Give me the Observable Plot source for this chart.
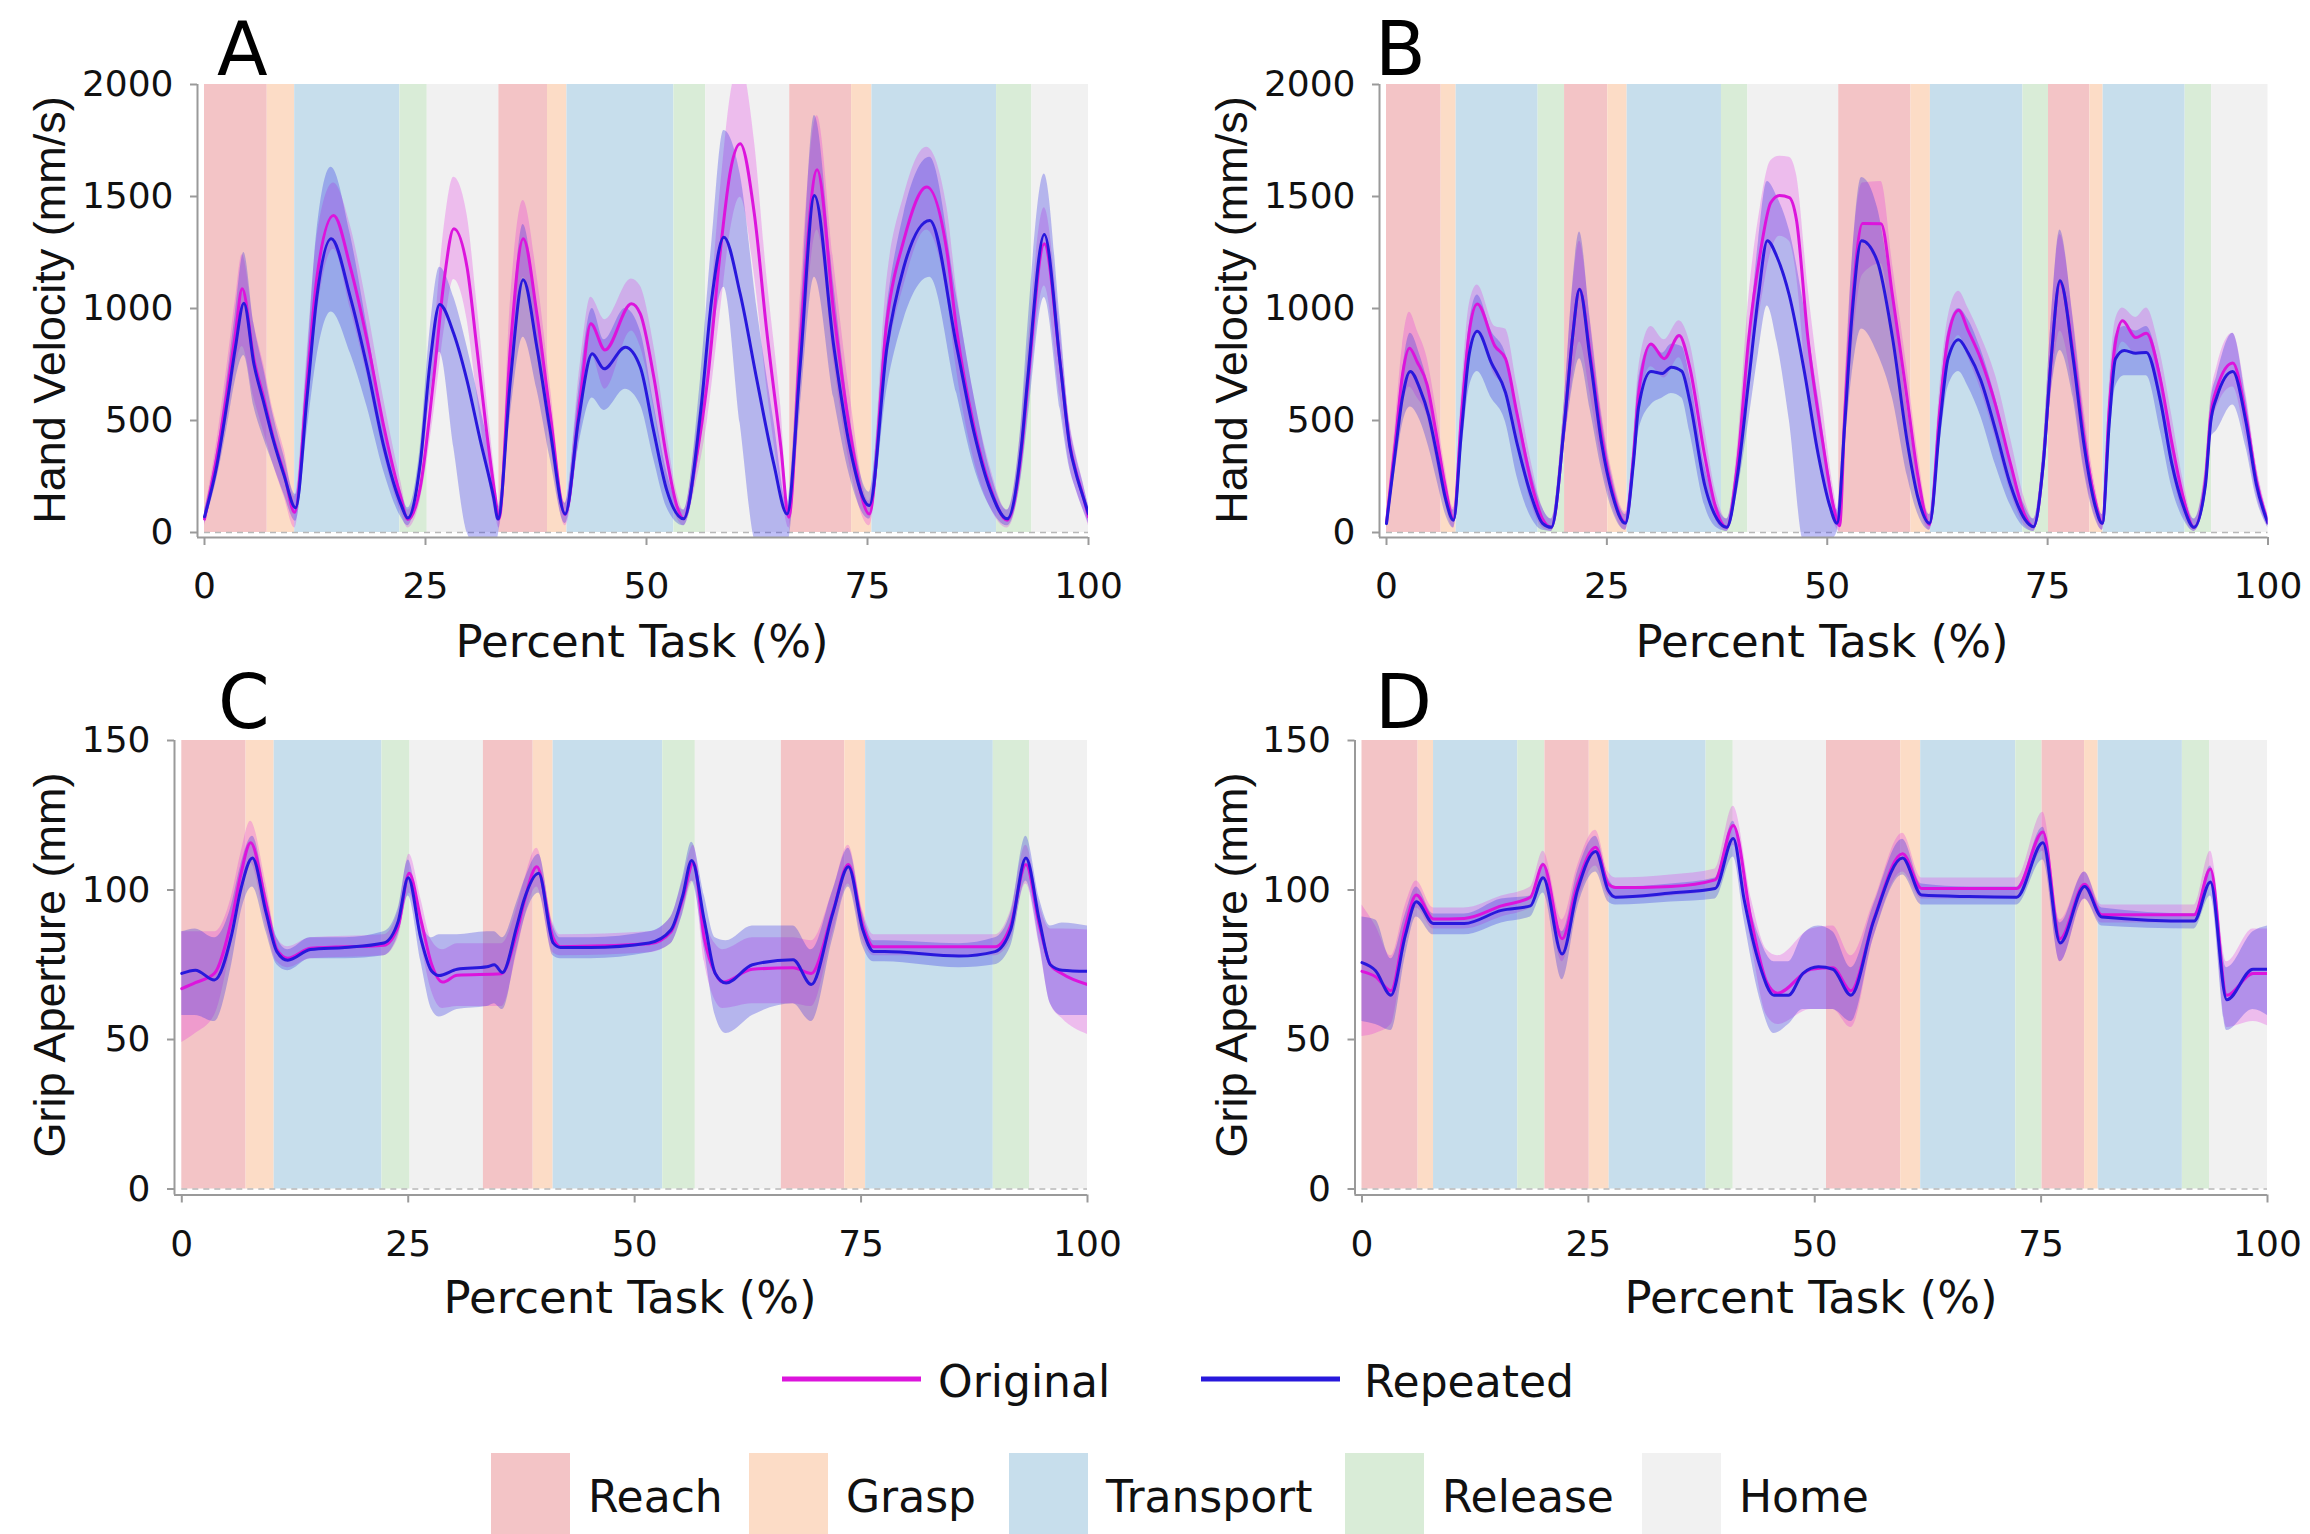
<!DOCTYPE html>
<html><head><meta charset="utf-8">
<script src="https://cdn.jsdelivr.net/npm/d3@7"></script>
<script src="https://cdn.jsdelivr.net/npm/@observablehq/plot@0.6"></script>
<style>
body{margin:0;background:#fff;}
#fig{position:relative;width:2310px;height:1534px;overflow:hidden;background:#fff;}
#fig svg{position:absolute;}
</style></head><body><div id="fig"></div>
<script>
// ---------- phases ----------
const phaseNames = ["Reach","Grasp","Transport","Release","Home"];
const phaseColors = ["#f3c4c6","#fcdcc6","#c7deec","#d9ecd7","#f1f1f1"];
const phasesAC = ["Reach","Grasp","Transport","Release","Home","Reach","Grasp","Transport","Release","Home","Reach","Grasp","Transport","Release","Home"];
const boundsAC = [0,7.1,10.2,22.1,25.2,33.3,38.8,41.0,53.1,56.7,66.2,73.2,75.5,89.6,93.6,100];
const phasesBD = ["Reach","Grasp","Transport","Release","Reach","Grasp","Transport","Release","Home","Reach","Grasp","Transport","Release","Reach","Grasp","Transport","Release","Home"];
const boundsBD = [0,6.2,7.9,17.2,20.2,25.1,27.3,38.0,41.0,51.3,59.5,61.7,72.2,75.1,79.8,81.3,90.6,93.6,100];
const seriesNames = ["Original","Repeated"];
const xTicks = [0,25,50,75,100];
const velTicks = [0,500,1000,1500,2000];
const gripTicks = [0,50,100,150];

// ---------- data: [percent task, mean, band low, band high] ----------
const A_orig = [[0,60,30,90],[1.4,340,270,410],[2.6,640,520,760],[3.5,890,740,1040],[4.26,1088,830,1240],[5.6,770,600,930],[6.7,600,450,750],[7.8,420,300,540],[9.0,265,160,370],[10.2,90,20,160],[11.6,670,540,800],[12.7,1135,960,1310],[14.6,1415,1265,1560],[16.5,1184,1000,1370],[18.4,857,700,1010],[20.3,470,350,590],[22.2,158,90,230],[23.0,58,20,100],[24.4,200,140,260],[25.9,678,520,840],[27.1,1125,900,1360],[28.2,1356,1130,1586],[29.7,1184,950,1420],[30.8,827,620,1030],[31.9,455,300,610],[32.9,158,80,240],[33.3,60,20,100],[34.6,827,620,1030],[36.05,1311,1140,1482],[37.6,976,800,1150],[39.1,530,400,660],[40.8,80,30,130],[42.5,600,450,750],[43.7,932,800,1050],[45.3,815,640,950],[48.3,1021,900,1132],[49.3,976,830,1100],[50.8,700,560,840],[52.3,330,220,440],[53.5,110,60,170],[54.2,61,30,100],[55.5,300,200,400],[56.9,678,500,860],[58.4,1274,1000,1550],[59.5,1616,1350,1950],[60.6,1735,1497,2100],[62.2,1422,1150,1750],[63.6,900,650,1150],[65.2,381,200,560],[66.1,68,20,120],[67.4,850,650,1050],[69.3,1619,1350,1860],[71.2,976,760,1200],[73.0,455,300,620],[75.2,83,30,140],[77.2,946,760,1130],[79.1,1304,1100,1500],[81.7,1542,1350,1720],[84.0,1250,1050,1450],[85.1,900,720,1080],[87.0,480,330,620],[88.9,200,110,290],[90.8,55,20,100],[92.4,360,260,480],[93.1,650,520,800],[95.0,1289,1100,1450],[96.8,753,600,900],[97.9,390,290,490],[98.6,270,190,350],[99.4,160,100,220],[100,70,30,110]];
const A_rep = [[0,70,40,100],[1.4,300,240,360],[2.6,590,480,700],[3.5,827,680,980],[4.45,1024,790,1250],[5.6,750,560,930],[6.7,580,420,730],[7.8,410,300,520],[9.0,255,170,340],[10.3,110,50,170],[11.6,604,450,760],[12.7,1049,780,1340],[14.33,1311,984,1631],[16.5,1050,800,1330],[18.4,738,560,920],[20.3,381,270,490],[22.2,128,70,190],[23.0,65,30,110],[24.4,307,240,380],[25.5,753,600,900],[26.6,1018,805,1184],[28.2,887,380,1050],[29.7,678,0,830],[31.2,411,-80,560],[32.7,158,-80,260],[33.2,60,-20,110],[34.6,678,520,830],[36.05,1128,872,1375],[37.6,827,640,1000],[39.1,455,330,580],[40.8,83,40,130],[42.3,500,380,620],[43.86,798,600,1000],[45.2,731,545,860],[47.6,827,640,1000],[49.3,738,570,900],[50.8,455,330,580],[52.3,188,110,270],[54.2,61,30,100],[56.1,530,400,680],[57.4,1049,850,1300],[58.75,1318,1095,1795],[60.6,1065,485,1600],[62.5,678,-60,1000],[64.4,306,-80,500],[65.9,83,-60,130],[67.4,753,550,950],[69.0,1504,1140,1862],[71.2,827,600,1100],[73.0,381,250,520],[75.2,120,60,180],[77.2,827,640,1000],[79.1,1184,950,1420],[82.05,1393,1140,1675],[85.1,827,620,1050],[87.0,455,300,620],[88.9,188,110,270],[90.8,61,30,100],[92.4,381,250,500],[93.1,678,480,900],[95.0,1330,1049,1601],[96.8,753,550,950],[97.9,381,280,480],[98.6,262,190,340],[99.4,158,100,220],[100,83,40,120]];

const B_orig = [[0,45,25,80],[1.0,400,320,480],[1.8,700,560,830],[2.6,823,650,983],[3.5,760,600,900],[4.6,660,520,780],[5.6,450,330,560],[6.6,220,140,300],[7.6,60,20,110],[8.5,520,420,620],[9.4,900,760,1020],[10.3,1020,900,1105],[12.3,832,700,920],[13.5,776,650,908],[14.8,531,400,660],[16.5,211,120,300],[17.7,60,20,110],[18.7,23,5,60],[20.2,493,400,600],[21.1,870,680,1080],[21.9,1086,850,1300],[23.1,800,620,960],[24.4,430,320,540],[25.6,190,120,270],[27.1,45,10,90],[28.0,330,260,400],[28.6,620,520,730],[30.0,842,740,920],[31.5,776,690,860],[33.2,879,780,945],[34.4,738,620,850],[36.1,343,230,460],[37.3,117,60,190],[38.6,23,5,60],[39.8,300,220,380],[41.1,870,700,1050],[42.4,1247,1000,1450],[43.6,1473,1250,1660],[44.6,1505,1322,1680],[45.7,1495,1300,1675],[46.5,1397,1150,1600],[47.8,870,600,1100],[49.5,399,250,560],[50.7,117,50,200],[51.4,30,5,80],[52.0,530,420,650],[52.8,1000,800,1200],[54.0,1380,1150,1560],[56.1,1378,1200,1567],[57.4,1058,900,1200],[59.1,587,450,720],[60.3,249,150,350],[61.6,35,10,80],[62.8,560,460,660],[63.7,870,740,960],[64.9,992,880,1077],[66.0,900,780,1000],[67.4,776,640,880],[69.1,569,420,700],[70.8,305,180,420],[72.4,79,30,150],[73.4,26,5,60],[74.5,305,230,380],[75.4,776,620,950],[76.4,1115,900,1330],[77.9,800,640,960],[79.1,430,300,560],[80.4,140,70,210],[81.2,41,10,80],[82.0,560,460,660],[82.7,850,740,950],[83.5,945,850,1002],[85.0,870,800,960],[86.2,889,800,1002],[87.8,682,560,800],[89.1,399,280,520],[90.4,154,80,230],[91.6,23,5,60],[92.9,230,170,300],[93.5,520,440,600],[94.2,644,560,740],[96.0,757,650,889],[97.5,520,420,620],[98.7,230,170,300],[100,45,20,80]];
const B_rep = [[0,40,20,70],[1.0,360,280,430],[1.8,600,480,720],[2.7,719,560,889],[3.8,640,500,790],[4.8,520,380,650],[5.8,330,220,440],[6.7,150,80,230],[7.6,55,20,100],[8.5,450,350,560],[9.4,800,650,930],[10.3,898,719,1060],[11.9,757,600,900],[13.5,625,493,800],[14.8,399,250,560],[16.5,154,60,260],[17.7,41,10,110],[18.7,23,5,60],[20.2,493,400,600],[21.1,870,650,1100],[21.9,1086,776,1341],[23.1,776,550,950],[24.4,399,280,520],[25.6,173,100,250],[27.1,41,10,80],[28.0,305,240,380],[28.6,560,450,680],[30.0,719,569,840],[31.3,710,600,800],[32.3,738,620,840],[33.5,720,600,830],[34.4,587,450,700],[36.1,211,120,300],[37.5,60,20,120],[38.6,23,5,60],[39.8,250,180,330],[41.1,682,500,850],[42.2,1058,800,1300],[43.2,1303,1011,1567],[44.3,1230,850,1500],[45.7,1058,500,1350],[47.4,719,-50,1000],[49.0,343,-60,600],[50.3,117,-40,250],[51.1,41,0,100],[52.0,493,380,620],[52.8,964,700,1200],[53.9,1303,908,1585],[55.7,1209,800,1450],[57.4,870,600,1050],[59.1,399,250,550],[60.3,154,80,250],[61.6,41,10,80],[62.8,493,400,600],[63.7,776,650,900],[64.9,861,719,1000],[66.0,800,650,950],[67.4,682,520,820],[69.1,456,300,600],[70.8,211,120,320],[72.4,60,20,120],[73.4,26,5,60],[74.5,305,230,380],[75.4,776,620,950],[76.4,1124,813,1350],[77.9,776,600,950],[79.1,399,280,520],[80.4,117,60,180],[81.2,41,10,80],[82.0,493,400,600],[82.7,776,650,880],[83.7,813,700,920],[85.0,800,700,900],[86.2,804,700,920],[87.8,587,450,720],[89.1,305,200,420],[90.4,117,60,180],[91.6,23,5,60],[92.9,211,150,280],[93.5,493,420,580],[94.2,606,456,700],[96.0,719,569,889],[97.5,493,380,600],[98.7,211,150,280],[100,41,20,70]];

const C_orig = [[0,67,49,86],[1.5,69,52,86],[3.6,72.1,58,86],[5.5,90,82,98],[6.5,105,98,112],[7.6,115.8,109,123],[9.3,95.4,88,102],[10.5,80.1,76,84],[11.7,77.2,74,81],[14.2,80.5,77,84],[22.3,81.5,78,85],[23.9,88,84,93],[25.1,105.6,99,112],[26.4,90,82,97],[27.6,75,66,83],[28.8,69.2,60.4,80],[30.4,71.5,61,82],[35.3,72,61,82],[37.0,86,79,94],[37.8,96,90,103],[39.2,107.8,101,114],[41.0,84,79,89],[41.8,81,78,85],[51.6,82,79,86],[54.0,86,82,91],[55.3,97,92,103],[56.5,109.2,103,115],[57.7,83.7,76,91],[58.9,72.1,63,82],[59.7,69.2,60.4,80],[63.0,73.5,62,84],[67.5,74,62,84],[69.5,72.1,61,83],[71.9,93,86,100],[73.6,108.5,102,115],[75.2,88,83,93],[76.4,81,78,85],[89.8,81,78,85],[91.5,88,83,93],[93.2,108.5,102,115],[94.7,88,81,95],[95.9,75,62,87],[97.2,72,57,87],[100,68.4,51.7,86.6]];
const C_rep = [[0,72.1,58,86],[1.5,73.2,58,87],[3.6,69.9,56,84],[5.5,85,75,95],[6.5,100,92,108],[7.8,110.7,101,118],[9.3,92.5,86,99],[10.5,79.4,75,84],[11.7,76.5,73,80],[14.2,80.1,77,84],[18.0,80.8,77,84],[22.3,82.3,78,86],[23.9,89.6,85,94],[25.0,104.1,98,110],[26.4,83.7,76,90],[27.6,72.8,60,84],[28.4,71.4,57.5,85],[30.4,73.5,60,85],[33.7,74.3,61,86],[34.5,75,62,86],[35.4,72.4,60,84],[37.0,88,80,96],[37.8,96.8,90,103],[39.4,105.6,99,112],[41.0,82.3,78,88],[41.8,80.8,77,84],[45.1,80.8,77,84],[51.6,82.3,79,86],[54.0,86.6,82,91],[55.3,98,92,104],[56.3,109.9,103,116],[57.7,89.6,80,98],[58.9,72.1,58,84],[60.1,68.9,52,83],[63.0,75,58,88],[67.5,76.7,62,88],[69.5,68.4,56,80],[71.9,92.5,84,100],[73.6,107.8,101,114],[75.2,86.6,81,92],[76.4,79.4,76,83],[77.6,79.4,76,83],[85.8,77.9,74,82],[89.8,79.4,75,84],[91.5,86.6,81,92],[93.2,110.7,103,118],[94.7,89.6,82,97],[95.9,75,62,88],[97.2,73.2,58,89],[100,72.8,58,88]];

const D_orig = [[0,72.8,51,95],[1.5,71,52,88],[3.2,66.3,55,78],[4.8,88,82,95],[6.0,98.3,94,103],[7.9,90.3,87,94],[11.3,90.5,87,94],[15.4,94.7,91,98],[18.6,97.6,94,101],[20.0,108.5,103,113],[22.1,83.7,76,90],[23.8,102,96,108],[25.8,114.3,108,120],[27.2,102,98,106],[28.0,100.8,97,104],[34.1,101.2,98,105],[39.0,103.4,100,107],[41.0,121.6,115,128],[43.0,89.6,82,97],[44.7,69.2,58,80],[45.9,65.5,55,78],[49.6,73.5,60,87],[52.0,74,60,88],[54.0,66.3,54,78],[56.5,90,84,96],[59.7,112.1,106,119],[61.8,100.5,97,104],[72.3,100.5,97,104],[75.2,119.4,113,126],[77.1,83.7,76,90],[79.8,101.9,97,106],[81.7,91.7,89,95],[91.9,91.7,89,95],[93.7,107,102,113],[95.5,64.8,54,76],[98.4,72.1,56,87],[100,72.1,54.6,87]];
const D_rep = [[0,75.7,56,91],[1.5,73,55,90],[3.2,64.8,53,77],[4.8,85,78,92],[6.0,96.1,91,101],[7.9,88.8,85,92],[11.3,88.8,85,92],[15.4,93.2,89,97],[18.6,94.7,91,98],[20.0,104.1,99,109],[22.1,78.6,70,86],[23.8,100,94,106],[25.8,112.9,106,118],[27.2,99.8,96,104],[28.0,97.6,95,101],[34.1,99,96,102],[39.0,100.5,97,104],[41.0,117.2,111,123],[42.2,96.8,90,103],[43.9,75,64,84],[45.5,64.8,52,76],[47.1,64.8,55,76],[48.7,72.1,60,85],[50.4,74.3,60,88],[52.0,73.5,60,86],[54.0,64.8,56,74],[56.5,89.6,84,95],[59.7,110.7,105,117],[61.8,98.3,95,102],[67.0,97.8,95,101],[72.3,97.6,95,101],[75.2,115.8,110,121],[77.1,82.3,76,89],[79.8,101.2,97,106],[81.7,91,88,94],[91.9,89.6,87,92],[93.7,102.7,98,108],[95.5,63.3,53,74],[98.4,73.5,60,86],[100,73.5,58,88]];

// ---------- styling ----------
const lineColors = {Original:"#dc14dc", Repeated:"#2818dc"};
const bandColors = {Original:"#e31ee3", Repeated:"#2a2ae6"};
const axisGray = "#9a9a9a";

function toRows(arr){ return arr.map(([x,m,lo,hi]) => ({x, m, lo, hi})); }
function phaseRows(bounds, names){ return names.map((p,i) => ({phase:p, x1:bounds[i], x2:bounds[i+1]})); }

const fig = document.getElementById("fig");

function panel(cfg){
  const o = toRows(cfg.orig), r = toRows(cfg.rep);
  const curve = "monotone-x";
  const svg = Plot.plot({
    width: cfg.width, height: cfg.height,
    marginLeft: cfg.mL, marginRight: cfg.mR, marginTop: cfg.mT, marginBottom: cfg.mB,
    x: {domain:[cfg.xmin,100], ticks:xTicks, tickSize:8, tickPadding:27, tickFormat:"d", label:null},
    y: {domain:[cfg.ymin,cfg.ymax], ticks:cfg.yticks, tickSize:7, tickPadding:17, tickFormat:"d", label:null},
    color: {domain:phaseNames, range:phaseColors},
    style: {fontFamily:"'DejaVu Sans', sans-serif", fontSize:"36px", color:"#111", background:"transparent", overflow:"visible"},
    marks: [
      Plot.rect(phaseRows(cfg.bounds, cfg.names), {x1:"x1", x2:"x2", y1:0, y2:cfg.ymax, fill:"phase"}),
      Plot.ruleY([0], {x1:0, x2:100, stroke:"#b8b8b8", strokeWidth:1.5, strokeDasharray:"6,5"}),
      Plot.areaY(o, {x:"x", y1:"lo", y2:"hi", fill:bandColors.Original, fillOpacity:0.25, curve, clip:true}),
      Plot.areaY(r, {x:"x", y1:"lo", y2:"hi", fill:bandColors.Repeated, fillOpacity:0.3, curve, clip:true}),
      Plot.line(o, {x:"x", y:"m", stroke:lineColors.Original, strokeWidth:3, curve, clip:true}),
      Plot.line(r, {x:"x", y:"m", stroke:lineColors.Repeated, strokeWidth:3, curve, clip:true}),
      Plot.ruleX([cfg.xmin], {y1:cfg.ymin, y2:cfg.ymax, stroke:axisGray, strokeWidth:2}),
      Plot.ruleY([cfg.ymin], {x1:cfg.xmin, x2:100, stroke:axisGray, strokeWidth:2})
    ]
  });
  svg.style.left = cfg.left + "px";
  svg.style.top = cfg.top + "px";
  const s = d3.select(svg);
  s.selectAll('g[aria-label="x-axis tick"], g[aria-label="y-axis tick"]').attr("stroke", axisGray).attr("stroke-width", 2);
  // panel letter
  s.append("text").attr("x", cfg.letterX).attr("y", cfg.letterY).attr("text-anchor","start")
    .attr("font-family","'DejaVu Sans', sans-serif").attr("font-size",74).attr("fill","#000").text(cfg.letter);
  // y label
  s.append("text").attr("transform", `translate(${cfg.ylabX},${cfg.ylabY}) rotate(-90)`)
    .attr("text-anchor","middle").attr("font-family","'Liberation Sans', Arial, sans-serif").attr("font-size",45).attr("fill","#111").text(cfg.ylabel);
  // x label
  s.append("text").attr("x", cfg.xlabX).attr("y", cfg.xlabY).attr("text-anchor","middle")
    .attr("font-family","'DejaVu Sans', sans-serif").attr("font-size",45).attr("fill","#111").text("Percent Task (%)");
  fig.appendChild(svg);
}

panel({orig:A_orig, rep:A_rep, bounds:boundsAC, names:phasesAC, ymax:2000, ymin:-22.3, yticks:velTicks, xmin:-0.792,
  width:1155, height:700, left:0, top:0, mL:197, mR:67, mT:84, mB:163,
  letter:"A", letterX:217, letterY:75, ylabel:"Hand Velocity (mm/s)", ylabX:65, ylabY:310, xlabX:642, xlabY:657});
panel({orig:B_orig, rep:B_rep, bounds:boundsBD, names:phasesBD, ymax:2000, ymin:-22.3, yticks:velTicks, xmin:-0.794,
  width:1155, height:700, left:1155, top:0, mL:224, mR:42.5, mT:84, mB:163,
  letter:"B", letterX:220, letterY:75, ylabel:"Hand Velocity (mm/s)", ylabX:92, ylabY:310, xlabX:667, xlabY:657});
panel({orig:C_orig, rep:C_rep, bounds:boundsAC, names:phasesAC, ymax:150, ymin:-2.0, yticks:gripTicks, xmin:-0.806,
  width:1155, height:700, left:0, top:640, mL:174, mR:68, mT:100, mB:145.5,
  letter:"C", letterX:218, letterY:88, ylabel:"Grip Aperture (mm)", ylabX:65, ylabY:325, xlabX:630, xlabY:673});
panel({orig:D_orig, rep:D_rep, bounds:boundsBD, names:phasesBD, ymax:150, ymin:-2.0, yticks:gripTicks, xmin:-0.773,
  width:1155, height:700, left:1155, top:640, mL:199.5, mR:43, mT:100, mB:145.5,
  letter:"D", letterX:220, letterY:88, ylabel:"Grip Aperture (mm)", ylabX:92, ylabY:325, xlabX:656, xlabY:673});

// ---------- legends ----------
const leg = d3.select(fig).append("svg").attr("width",2310).attr("height",214)
  .style("left","0px").style("top","1320px");
const lineLeg = [{name:"Original", x:782, tx:938},{name:"Repeated", x:1201, tx:1364}];
lineLeg.forEach(d => {
  leg.append("line").attr("x1",d.x).attr("x2",d.x+139).attr("y1",59).attr("y2",59)
    .attr("stroke",lineColors[d.name]).attr("stroke-width",5);
  leg.append("text").attr("x",d.tx).attr("y",77).attr("font-family","'DejaVu Sans', sans-serif")
    .attr("font-size",44).attr("fill","#111").text(d.name);
});
const swX = [491,749,1009,1345,1642];
phaseNames.forEach((p,i) => {
  leg.append("rect").attr("x",swX[i]).attr("y",133).attr("width",79).attr("height",90).attr("fill",phaseColors[i]);
  leg.append("text").attr("x",swX[i]+97).attr("y",192).attr("font-family","'DejaVu Sans', sans-serif")
    .attr("font-size",44).attr("fill","#111").text(p);
});
</script>
</body></html>
